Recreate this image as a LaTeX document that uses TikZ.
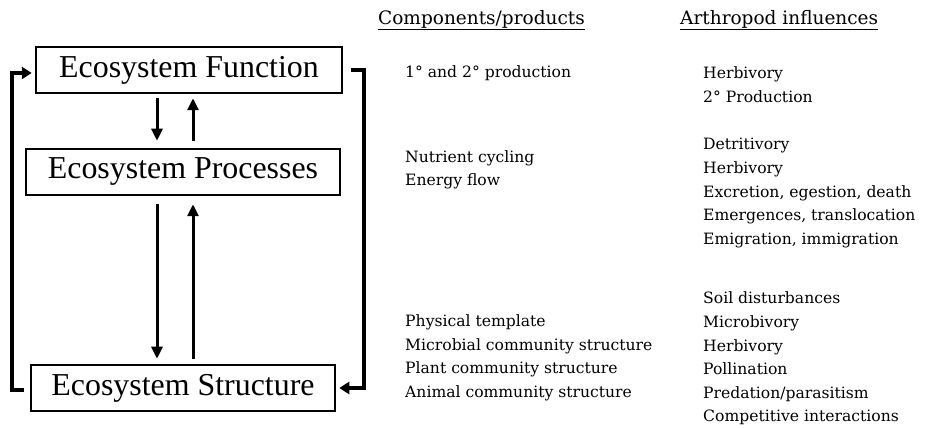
\documentclass[tikz,border=0pt]{standalone}
\usepackage{fontspec}
\setmainfont{Liberation Serif}
\newfontfamily\listfont{DejaVu Serif}
\usetikzlibrary{arrows.meta}
\tikzset{
  sysbox/.style={draw, line width=2.5pt, minimum height=46pt, inner sep=0pt,
    font=\fontsize{31.9}{36}\selectfont},
  arr/.style={line width=3pt, -{Triangle[length=12pt,width=11pt]}},
  fback/.style={line width=3.4pt, -{Triangle[length=10pt,width=12pt]}},
  lst/.style={align=left, anchor=west, inner sep=0pt,
    font=\listfont\fontsize{15.6}{23.6}\selectfont},
  colhead/.style={anchor=west, inner sep=0pt,
    font=\listfont\fontsize{18.5}{22}\selectfont},
}
\begin{document}
\begin{tikzpicture}[x=1pt,y=1pt]
      \useasboundingbox (0,0) rectangle (926,428);
      % the three boxes
      \node (fun) [sysbox, minimum width=306pt] at (189,358) {Ecosystem Function};
      \node (pro) [sysbox, minimum width=314pt] at (183,256) {Ecosystem Processes};
      \node (str) [sysbox, minimum width=304pt] at (183,40) {Ecosystem Structure};
      \coordinate (dn) at (157,0);
      \coordinate (up) at (193,0);
      \coordinate (lft) at (12,0);
      \coordinate (rgt) at (364,0);
      \coordinate (fw) at ([yshift=-3pt]fun.west);
      \coordinate (fe) at (fun.east);
      \coordinate (sw) at ([yshift=-2pt]str.west);
      \coordinate (se) at (str.east);
      % arrows between the boxes
      \draw [arr, shorten <=4pt, shorten >=7pt] (dn |- fun.south) -- (dn |- pro.north);
      \draw [arr, shorten <=7pt, shorten >=4pt] (up |- pro.north) -- (up |- fun.south);
      \draw [arr, shorten <=8pt, shorten >=5pt] (dn |- pro.south) -- (dn |- str.north);
      \draw [arr, shorten <=5pt, shorten >=8pt] (up |- str.north) -- (up |- pro.south);
      % feedback loops
      \draw [fback, shorten <=6pt, shorten >=3pt] (sw) -- (lft |- sw) -- (lft |- fw) -- (fw);
      \draw [fback, shorten <=8pt, shorten >=3pt] (fe) -- (rgt |- fe) -- (rgt |- se) -- (se);
      % columns
      \node (hcp) [colhead] at (378,408) {\underline{Components/products}};
      \node (hai) [colhead] at (680,408) {\underline{Arthropod influences}};
      \node (cp1) [lst] at (405,355) {1° and 2° production};
      \node (cp2) [lst] at (405,258) {Nutrient cycling\\Energy flow};
      \node (cp3) [lst] at (405,70) {Physical template\\Microbial community structure\\Plant community structure\\Animal community structure};
      \node (ai1) [lst] at (703,343.5) {Herbivory\\2° Production};
      \node (ai2) [lst] at (703,235) {Detritivory\\Herbivory\\Excretion, egestion, death\\Emergences, translocation\\Emigration, immigration};
      \node (ai3) [lst] at (703,69.5) {Soil disturbances\\Microbivory\\Herbivory\\Pollination\\Predation/parasitism\\Competitive interactions};
\end{tikzpicture}
\end{document}
